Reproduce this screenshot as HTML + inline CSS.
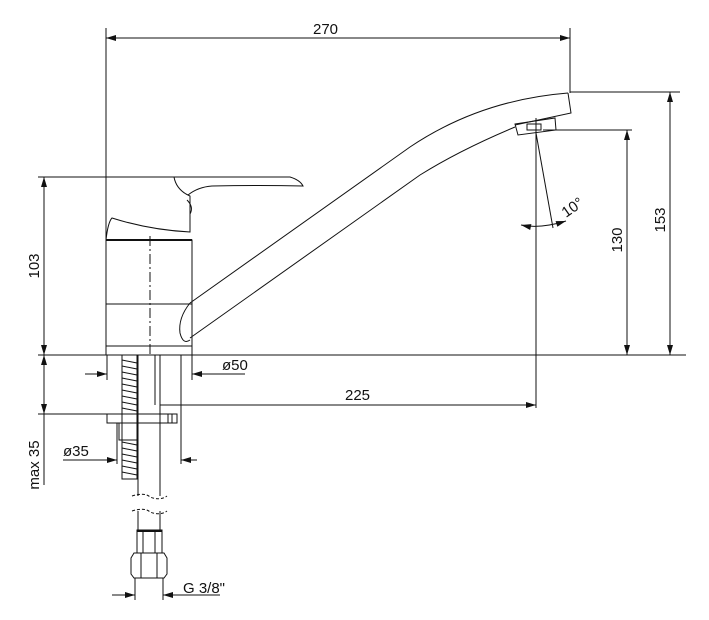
<!DOCTYPE html>
<html><head><style>
html,body{margin:0;padding:0;background:#fff;}
svg{display:block;}
text{font-family:"Liberation Sans Narrow","Liberation Sans",sans-serif;font-size:15px;fill:#111;}
</style></head><body>
<svg width="709" height="620" viewBox="0 0 709 620" xmlns="http://www.w3.org/2000/svg">
<defs>
<marker id="a" viewBox="0 0 10 6" refX="10" refY="3" markerWidth="14" markerHeight="6" markerUnits="userSpaceOnUse" orient="auto-start-reverse"><path d="M0,0 L10,3 L0,6z" fill="#111"/></marker>
</defs>
<g stroke="#111" stroke-width="1" fill="none">
<!-- extension lines -->
<line x1="106" y1="28" x2="106" y2="346"/>
<line x1="570" y1="28" x2="570" y2="93"/>
<line x1="570" y1="92" x2="680" y2="92"/>
<line x1="543" y1="130" x2="632" y2="130"/>
<line x1="38" y1="177" x2="106" y2="177"/>
<line x1="38" y1="355" x2="686" y2="355"/>
<line x1="38" y1="414" x2="120" y2="414"/>
<!-- dims -->
<line x1="106" y1="38" x2="570" y2="38" marker-start="url(#a)" marker-end="url(#a)"/>
<line x1="670" y1="92" x2="670" y2="355" marker-start="url(#a)" marker-end="url(#a)"/>
<line x1="627" y1="130" x2="627" y2="355" marker-start="url(#a)" marker-end="url(#a)"/>
<line x1="44" y1="177" x2="44" y2="355" marker-start="url(#a)" marker-end="url(#a)"/>
<line x1="44" y1="355" x2="44" y2="414" marker-start="url(#a)" marker-end="url(#a)"/>
<line x1="44" y1="414" x2="44" y2="485"/>
<line x1="160" y1="405" x2="536" y2="405" marker-end="url(#a)"/>
<line x1="536" y1="118" x2="536" y2="408"/>
<line x1="536" y1="133" x2="553" y2="228"/>
<path d="M521,225 Q540,229 566,221" marker-start="url(#a)" marker-end="url(#a)"/>
<!-- ø50 -->
<line x1="85" y1="374" x2="107" y2="374" marker-end="url(#a)"/>
<line x1="245" y1="374" x2="192" y2="374" marker-end="url(#a)"/>
<line x1="107" y1="355" x2="107" y2="380"/>
<line x1="192" y1="355" x2="192" y2="380"/>
<!-- ø35 -->
<line x1="63" y1="460" x2="117" y2="460" marker-end="url(#a)"/>
<line x1="197" y1="460" x2="181" y2="460" marker-end="url(#a)"/>
<line x1="181" y1="355" x2="181" y2="464"/>
<line x1="117" y1="423" x2="117" y2="464"/>
<!-- G 3/8 -->
<line x1="112" y1="595" x2="135" y2="595" marker-end="url(#a)"/>
<line x1="220" y1="595" x2="163" y2="595" marker-end="url(#a)"/>
<line x1="135" y1="578" x2="135" y2="600"/>
<line x1="163" y1="578" x2="163" y2="600"/>
<!-- body -->
<path d="M106,177 L174,177"/>
<path d="M174,177 Q176,188 186,194 L190,196 L190,232 Q150,230 112,218 Q108,222 106,240"/>
<path d="M174,177 L290,177 Q300,180 303,186 Q260,185 212,186 Q198,187 188,195"/>
<path d="M187,200 Q194,207 190,214"/>
<rect x="106" y="240" width="86" height="106"/>
<line x1="106" y1="304" x2="192" y2="304"/>
<line x1="106" y1="240" x2="192" y2="240" stroke-width="2"/>
<rect x="106" y="346" width="86" height="9"/>
<line x1="150" y1="236" x2="150" y2="355" stroke-dasharray="10,3,2,3"/>
<!-- spout -->
<path d="M190,303 L410,147 Q480,100 568,93"/>
<path d="M190,338 L420,175 Q460,150 515,127"/>
<path d="M190,303 Q178,318 180,333 Q183,345 190,340"/>
<path d="M568,93 L571,113 L515,125"/>
<path d="M515,124 L555,118 L556,130 L518,135 Z"/>
<rect x="527" y="124" width="14" height="6"/>
<!-- mounting -->
<rect x="122" y="355" width="15" height="124"/>
<path d="M122,360 l15,3 M122,366 l15,3 M122,372 l15,3 M122,378 l15,3 M122,384 l15,3 M122,390 l15,3 M122,396 l15,3 M122,402 l15,3 M122,408 l15,3 M122,442 l15,3 M122,448 l15,3 M122,454 l15,3 M122,460 l15,3 M122,466 l15,3 M122,472 l15,3"/>
<rect x="107" y="414" width="70" height="9"/>
<line x1="168" y1="414" x2="168" y2="423"/>
<line x1="172" y1="414" x2="172" y2="423"/>
<rect x="119" y="423" width="18" height="17"/>
<line x1="138" y1="355" x2="138" y2="496"/>
<line x1="160" y1="355" x2="160" y2="496"/>
<line x1="155" y1="355" x2="155" y2="405"/>
<path d="M132,496 Q145,492 150,497 Q160,501 167,496" stroke-dasharray="3,2"/>
<path d="M132,511 Q145,507 150,512 Q160,516 167,511" stroke-dasharray="3,2"/>
<line x1="138" y1="511" x2="138" y2="530"/>
<line x1="160" y1="511" x2="160" y2="530"/>
<rect x="137" y="530" width="25" height="23"/>
<line x1="137" y1="531" x2="162" y2="531" stroke-width="2"/>
<line x1="143" y1="530" x2="143" y2="553"/>
<line x1="155" y1="530" x2="155" y2="553"/>
<path d="M134,553 L164,553 L167,558 L167,574 L164,578 L134,578 L131,574 L131,558 Z"/>
<line x1="141" y1="553" x2="141" y2="578"/>
<line x1="157" y1="553" x2="157" y2="578"/>
</g>
<text x="313" y="34">270</text>
<text x="345" y="400">225</text>
<text x="222" y="370">ø50</text>
<text x="63" y="456">ø35</text>
<text x="183" y="593">G 3/8"</text>
<text transform="translate(39,266) rotate(-90)" text-anchor="middle">103</text>
<text transform="translate(39,465) rotate(-90)" text-anchor="middle">max 35</text>
<text transform="translate(622,240) rotate(-90)" text-anchor="middle">130</text>
<text transform="translate(665,220) rotate(-90)" text-anchor="middle">153</text>
<text transform="translate(566,218) rotate(-35)">10°</text>
</svg>
</body></html>
